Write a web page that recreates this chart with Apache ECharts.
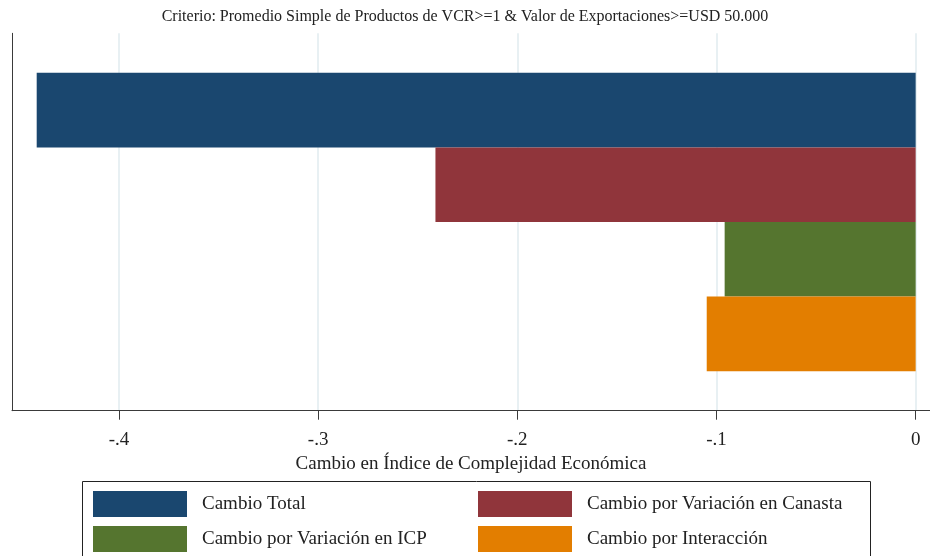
<!DOCTYPE html>
<html>
<head>
<meta charset="utf-8">
<script src="https://cdn.jsdelivr.net/npm/echarts@6/dist/echarts.min.js"></script>
<style>
  html, body { margin: 0; padding: 0; background: #fff; }
  #chart { width: 930px; height: 556px; }
</style>
</head>
<body>
<div id="chart"></div>
<script>
// Decomposition of the change in the Economic Complexity Index
const titleText = 'Criterio: Promedio Simple de Productos de VCR>=1 & Valor de Exportaciones>=USD 50.000';
const axisTitle = 'Cambio en Índice de Complejidad Económica';
const seriesNames = [
  'Cambio Total',
  'Cambio por Variación en Canasta',
  'Cambio por Variación en ICP',
  'Cambio por Interacción'
];
const seriesValues = [-0.4413, -0.2411, -0.0959, -0.1049];
const seriesColors = ['#1a476f', '#90353b', '#55752f', '#e37e00'];
const tickValues = [-0.4, -0.3, -0.2, -0.1, 0];
const tickLabels = ['-.4', '-.3', '-.2', '-.1', '0'];
const axisMin = -0.4537;
const axisMax = 0.0072;

const serif = 'Liberation Serif';
const chart = echarts.init(document.getElementById('chart'), null, { renderer: 'canvas' });

const series = seriesNames.map((name, i) => ({
  name: name,
  type: 'bar',
  data: [seriesValues[i]],
  barWidth: 74.6,
  barGap: '0%',
  itemStyle: { color: seriesColors[i] },
  emphasis: { disabled: true },
  animation: false
}));

const legendText = { fontFamily: serif, fontSize: 19, color: '#222', padding: [6, 0, 0, 10] };

chart.setOption({
  animation: false,
  title: {
    text: titleText,
    left: 'center',
    top: 4,
    textStyle: { fontFamily: serif, fontSize: 16, fontWeight: 'normal', color: '#222' }
  },
  grid: { left: 12, right: 0, top: 33.3, bottom: 145.3, containLabel: false },
  xAxis: {
    type: 'value',
    min: axisMin,
    max: axisMax,
    name: axisTitle,
    nameLocation: 'middle',
    nameGap: 32,
    nameTextStyle: { fontFamily: serif, fontSize: 19, color: '#222' },
    axisLine: { show: true, onZero: false, lineStyle: { color: '#3a3a3a', width: 1 } },
    axisTick: { show: true, length: 9, customValues: tickValues, lineStyle: { color: '#3a3a3a' } },
    axisLabel: {
      customValues: tickValues,
      margin: 20,
      fontFamily: serif, fontSize: 19, color: '#222',
      formatter: v => {
        const idx = tickValues.findIndex(t => Math.abs(t - v) < 1e-9);
        return idx >= 0 ? tickLabels[idx] : '';
      }
    },
    splitLine: { show: true, lineStyle: { color: '#e1ebef', width: 1.5 } }
  },
  yAxis: {
    type: 'category',
    data: [''],
    inverse: true,
    axisLine: { show: true, onZero: false, lineStyle: { color: '#3a3a3a', width: 1 } },
    axisTick: { show: false },
    axisLabel: { show: false },
    splitLine: { show: false }
  },
  legend: [
    {
      data: [seriesNames[0], seriesNames[2]],
      orient: 'vertical',
      left: 93, top: 491, height: 80,
      padding: 0,
      itemWidth: 94, itemHeight: 26, itemGap: 9,
      icon: 'rect',
      selectedMode: false,
      textStyle: legendText
    },
    {
      data: [seriesNames[1], seriesNames[3]],
      orient: 'vertical',
      left: 478, top: 491, height: 80,
      padding: 0,
      itemWidth: 94, itemHeight: 26, itemGap: 9,
      icon: 'rect',
      selectedMode: false,
      textStyle: legendText
    }
  ],
  graphic: [
    {
      type: 'rect',
      shape: { x: 82.5, y: 481.5, width: 788, height: 90 },
      style: { fill: 'none', stroke: '#222', lineWidth: 1 },
      silent: true,
      z: -1
    }
  ],
  series: series
});
</script>
</body>
</html>
